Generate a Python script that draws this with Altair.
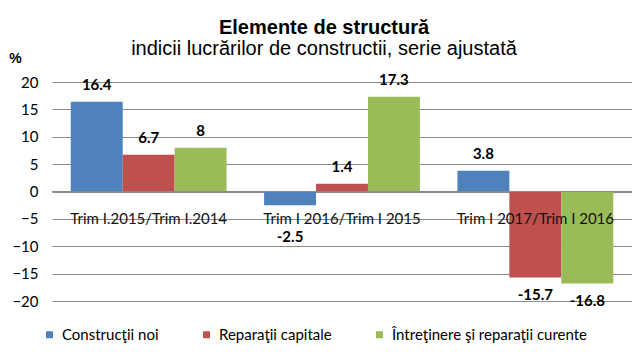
import altair as alt
import pandas as pd

categories = ["Trim I.2015/Trim I.2014", "Trim I 2016/Trim I 2015", "Trim I 2017/Trim I 2016"]
series = ["Construcţii noi", "Reparaţii capitale", "Întreţinere şi reparaţii curente"]
constructii_noi = [16.4, -2.5, 3.8]
reparatii_capitale = [6.7, 1.4, -15.7]
intretinere = [8, 17.3, -16.8]
colors = ["#4F81BD", "#C0504D", "#9BBB59"]
y_ticks = [-20, -15, -10, -5, 0, 5, 10, 15, 20]

rows = []
for s, vals in zip(series, [constructii_noi, reparatii_capitale, intretinere]):
    for c, v in zip(categories, vals):
        rows.append({"cat": c, "series": s, "value": v, "label": f"{v:g}"})
df = pd.DataFrame(rows)
cat_df = pd.DataFrame({"cat": categories})

xscale = alt.Scale(domain=categories, paddingInner=0.194, paddingOuter=0.097)
yscale = alt.Scale(domain=[-20, 20], nice=False)
offscale = alt.Scale(domain=series, paddingInner=0, paddingOuter=0)
cscale = alt.Scale(domain=series, range=colors)

yaxis = alt.Axis(values=y_ticks, tickCount=9, grid=True, gridColor="#8a8a8a",
                 gridOpacity=1, labelOverlap=False,
                 domain=False, ticks=False, labelPadding=14, labelFont="Lato",
                 labelFontSize=15, labelColor="#000000",
                 titleAngle=0, titleX=-37, titleY=-24, titleAlign="center",
                 titleBaseline="middle", titleFont="Liberation Sans",
                 titleFontSize=14, titleFontWeight="bold", titleColor="#000000")

x = alt.X("cat:N", scale=xscale, axis=None, sort=categories)
xo = alt.XOffset("series:N", scale=offscale, sort=series)

bars = alt.Chart(df).mark_bar().encode(
    x=x,
    xOffset=xo,
    y=alt.Y("value:Q", scale=yscale, title="%", axis=yaxis),
    y2=alt.datum(0),
    color=alt.Color("series:N", scale=cscale, sort=series,
                    legend=alt.Legend(title=None, orient="none", direction="horizontal",
                                      legendX=-10, legendY=245, symbolType="square",
                                      symbolSize=49, symbolStrokeWidth=0, labelFont="Lato",
                                      labelFontSize=15, labelColor="#000000", labelOffset=5,
                                      columnPadding=40, labelLimit=400)),
)

zero = alt.Chart(cat_df).mark_rule(color="#8a8a8a").encode(
    y=alt.datum(0, scale=yscale, title="%", axis=yaxis))

pos_labels = alt.Chart(df).transform_filter("datum.value >= 0").mark_text(
    baseline="bottom", dy=-9, font="Lato", fontSize=15, fontWeight="bold", color="#000000"
).encode(x=x, xOffset=xo, y=alt.Y("value:Q", scale=yscale, title="%", axis=yaxis),
         text="label:N")

neg_labels = alt.Chart(df).transform_filter("datum.value < 0").transform_calculate(
    ly="min(datum.value, -5)"
).mark_text(
    baseline="top", dy=11, font="Lato", fontSize=15, fontWeight="bold", color="#000000"
).encode(x=x, xOffset=xo, y=alt.Y("ly:Q", scale=yscale, title="%", axis=yaxis),
         text="label:N")

cat_labels = alt.Chart(cat_df).mark_text(
    baseline="middle", font="Lato", fontSize=15, color="#111111"
).encode(x=x, y=alt.datum(-5, scale=yscale, title="%", axis=yaxis), text="cat:N")

chart = alt.layer(bars, zero, cat_labels, pos_labels, neg_labels).properties(
    width=580, height=219,
    autosize=alt.AutoSizeParams(type="none"),
    padding={"left": 44, "top": 74, "right": 0, "bottom": 52},
    title=alt.TitleParams(text="Elemente de structură",
                          subtitle="indicii lucrărilor de constructii, serie ajustată",
                          anchor="middle", dx=-18, dy=10, offset=2, font="Liberation Sans",
                          fontSize=20, fontWeight="bold", color="#000000",
                          subtitleFont="Liberation Sans", subtitleFontSize=20,
                          subtitleColor="#000000", subtitlePadding=1),
).configure_view(stroke=None)

chart.save("out.html", embed_options={"renderer": "svg", "actions": False})
